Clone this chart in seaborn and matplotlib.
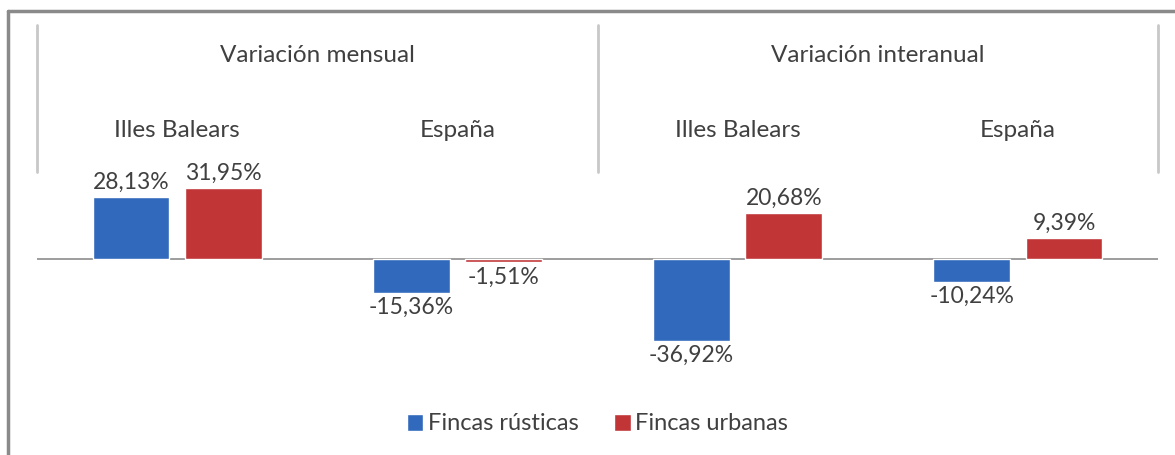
"""Variación mensual e interanual de fincas rústicas y urbanas"""

import matplotlib
matplotlib.use("Agg")
import matplotlib.pyplot as plt
from matplotlib.lines import Line2D
import pandas as pd
import seaborn as sns

periodos = ["Variación mensual", "Variación interanual"]
regiones = ["Illes Balears", "España"]
grupos = ["mensual|Illes Balears", "mensual|España",
          "interanual|Illes Balears", "interanual|España"]
series = ["Fincas rústicas", "Fincas urbanas"]
rusticas = [28.13, -15.36, -36.92, -10.24]
urbanas = [31.95, -1.51, 20.68, 9.39]

colores = {"Fincas rústicas": "#3169bd", "Fincas urbanas": "#c23537"}
texto = "#404040"


def main() -> None:
    """Build the chart and save it"""
    sns.set_theme(style="white")
    plt.rcParams["font.family"] = ["Lato", "DejaVu Sans"]

    df = pd.DataFrame({
        "grupo": grupos * 2,
        "serie": [series[0]] * 4 + [series[1]] * 4,
        "valor": rusticas + urbanas,
    })

    fig = plt.figure(figsize=(11.75, 4.55), dpi=100)
    # pixel geometry: zero line at y=259, 2.22 px per unit
    px = 2.22
    top, bottom = 20, 380
    ax = fig.add_axes([37 / 1175, 1 - bottom / 455,
                       (1158 - 37) / 1175, (bottom - top) / 455])
    sns.barplot(data=df, x="grupo", y="valor", hue="serie", order=grupos,
                hue_order=series, palette=colores, width=0.66, gap=0.17,
                saturation=1, ax=ax, legend=True)

    ax.set_xlim(-0.5, 3.5)
    ax.set_ylim(-(bottom - 259) / px, (259 - top) / px)
    ax.axis("off")
    ax.plot([-0.5, 3.5], [0, 0], color="#8c8c8c", lw=1.2, zorder=0)

    def ydat(ypix):
        return (259 - ypix) / px

    for cont in ax.containers:
        labels = [f"{b.get_height():.2f}%".replace(".", ",") for b in cont]
        ax.bar_label(cont, labels=labels, padding=3, fontsize=16.5,
                     color=texto)

    for x in (-0.5, 1.5, 3.5):
        ax.plot([x, x], [ydat(25), ydat(172)], color="#c8c8c8", lw=2,
                clip_on=False)

    for i, p in enumerate(periodos):
        ax.text(0.5 + 2 * i, ydat(55), p, ha="center", va="center",
                fontsize=17.5, color=texto)
    for j, g in enumerate(grupos):
        ax.text(j, ydat(130), g.split("|")[1], ha="center", va="center",
                fontsize=17.5, color=texto)

    handles, labs = ax.get_legend_handles_labels()
    ax.legend(handles, labs, loc="center", ncol=2, frameon=False,
              bbox_to_anchor=(1.5, ydat(424)), bbox_transform=ax.transData,
              fontsize=17, handlelength=0.7, handleheight=0.7,
              handletextpad=0.2, columnspacing=1.5, labelcolor=texto)

    fig.add_artist(Line2D([8 / 1175, 1], [1 - 11 / 455] * 2,
                          color="#8a8a8a", lw=2.5))
    fig.add_artist(Line2D([8 / 1175] * 2, [0, 1 - 11 / 455],
                          color="#8a8a8a", lw=2.5))

    fig.savefig("out.png", dpi=100, facecolor="white")


if __name__ == "__main__":
    main()
